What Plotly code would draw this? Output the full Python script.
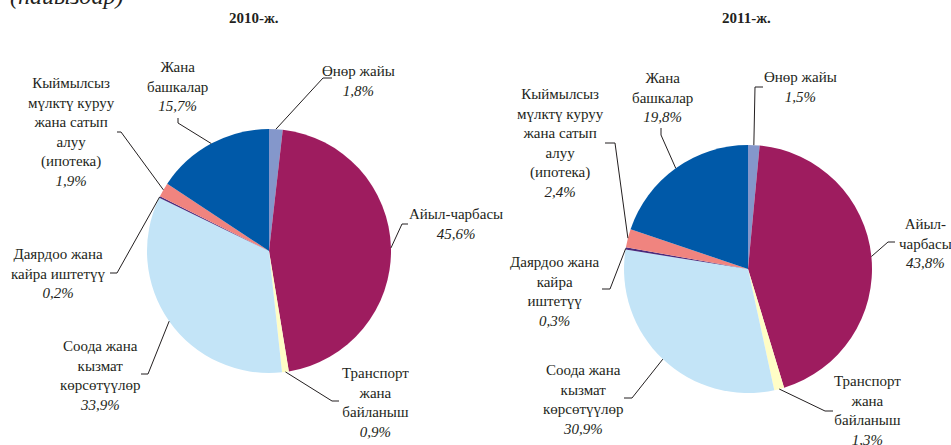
import math
import plotly.graph_objects as go

W, H = 951, 445

categories = ["Өнөр жайы", "Айыл-чарбасы", "Транспорт жана байланыш",
              "Соода жана кызмат көрсөтүүлөр", "Даярдоо жана кайра иштетүү",
              "Кыймылсыз мүлктү куруу жана сатып алуу (ипотека)", "Жана башкалар"]
values_2010 = [1.8, 45.6, 0.9, 33.9, 0.2, 1.9, 15.7]
values_2011 = [1.5, 43.8, 1.3, 30.9, 0.3, 2.4, 19.8]
titles = ["2010-ж.", "2011-ж."]
unit_label = "(пайыздар)"

labels_2010 = ["Өнөр жайы", "Айыл-чарбасы", "Транспорт<br>жана<br>байланыш",
               "Соода жана<br>кызмат<br>көрсөтүүлөр", "Даярдоо жана<br>кайра иштетүү",
               "Кыймылсыз<br>мүлктү куруу<br>жана сатып<br>алуу<br>(ипотека)",
               "Жана<br>башкалар"]
labels_2011 = ["Өнөр жайы", "Айыл-<br>чарбасы", "Транспорт<br>жана<br>байланыш",
               "Соода жана<br>кызмат<br>көрсөтүүлөр", "Даярдоо жана<br>кайра<br>иштетүү",
               "Кыймылсыз<br>мүлктү куруу<br>жана сатып<br>алуу<br>(ипотека)",
               "Жана<br>башкалар"]

colors = ["#8497CB", "#9E1C5F", "#FFFDC6", "#C3E4F7", "#4A2A7C", "#F0847F", "#0059A8"]

# layout geometry (pixels)
pies = [
    dict(cx=269, cy=251, r=122, title_x=254, values=values_2010, labels=labels_2010,
         text=[(358, 81), (456, 224), (375, 402), (100, 375), (58, 273), (71, 132), (177, 86)],
         elbow=[(323, 78), (402, 224), (332, 401), (148, 374), (117, 273), (121, 132), (178, 123)],
         end=[(332, 78), (408, 224), (339, 401), (141, 374), (110, 273), (117, 132), (178, 118)]),
    dict(cx=748, cy=269, r=124, title_x=746, values=values_2011, labels=labels_2011,
         text=[(800, 87), (925, 243), (867, 410), (583, 399), (555, 291), (560, 143), (662, 97)],
         elbow=[(755, 87), (888, 242), (825, 411), (632, 398), (610, 289), (615, 143), (661, 135)],
         end=[(763, 87), (895, 242), (833, 411), (624, 398), (602, 289), (605, 143), (661, 128)]),
]

def px(x):
    return x / W

def py(y):
    return 1 - y / H

FONT = "Liberation Serif"
TXT = "#231F20"

fig = go.Figure()
annotations = []
shapes = []

for i, p in enumerate(pies):
    cx, cy, r = p["cx"], p["cy"], p["r"]
    fig.add_trace(go.Pie(
        labels=categories, values=p["values"], sort=False, direction="clockwise",
        rotation=0, textinfo="none", hoverinfo="label+value",
        marker=dict(colors=colors, line=dict(width=0)),
        domain=dict(x=[px(cx - r), px(cx + r)], y=[py(cy + r), py(cy - r)]),
        showlegend=False,
    ))
    annotations.append(dict(
        text=f"<b>{titles[i]}</b>", x=px(p["title_x"]), y=py(18), xref="paper", yref="paper",
        showarrow=False, xanchor="center", yanchor="middle",
        font=dict(family=FONT, size=15, color=TXT)))
    total = sum(p["values"])
    cum = 0.0
    for k, v in enumerate(p["values"]):
        mid = (cum + v / 2) / total * 2 * math.pi
        cum += v
        sx = cx + r * math.sin(mid)
        sy = cy - r * math.cos(mid)
        ex, ey = p["elbow"][k]
        fx, fy = p["end"][k]
        shapes.append(dict(
            type="path", xref="paper", yref="paper",
            path=f"M {px(sx)} {py(sy)} L {px(ex)} {py(ey)} L {px(fx)} {py(fy)}",
            line=dict(color="#231F20", width=1)))
        tx, ty = p["text"][k]
        pct = f"{v:.1f}".replace(".", ",") + "%"
        annotations.append(dict(
            text=f"{p['labels'][k]}<br><i>{pct}</i>", x=px(tx), y=py(ty),
            xref="paper", yref="paper", showarrow=False, xanchor="center",
            yanchor="middle", align="center",
            font=dict(family=FONT, size=15, color=TXT)))

annotations.append(dict(
    text=f"<i>{unit_label}</i>", x=px(8), y=py(-4), xref="paper", yref="paper",
    showarrow=False, xanchor="left", yanchor="middle",
    font=dict(family=FONT, size=24, color=TXT)))

fig.update_layout(
    width=W, height=H, margin=dict(l=0, r=0, t=0, b=0),
    paper_bgcolor="white", plot_bgcolor="white",
    font=dict(family=FONT),
    annotations=annotations, shapes=shapes,
)

fig.write_html("out.html", config={"displayModeBar": False},
               post_script="document.body.style.margin='0px';")
